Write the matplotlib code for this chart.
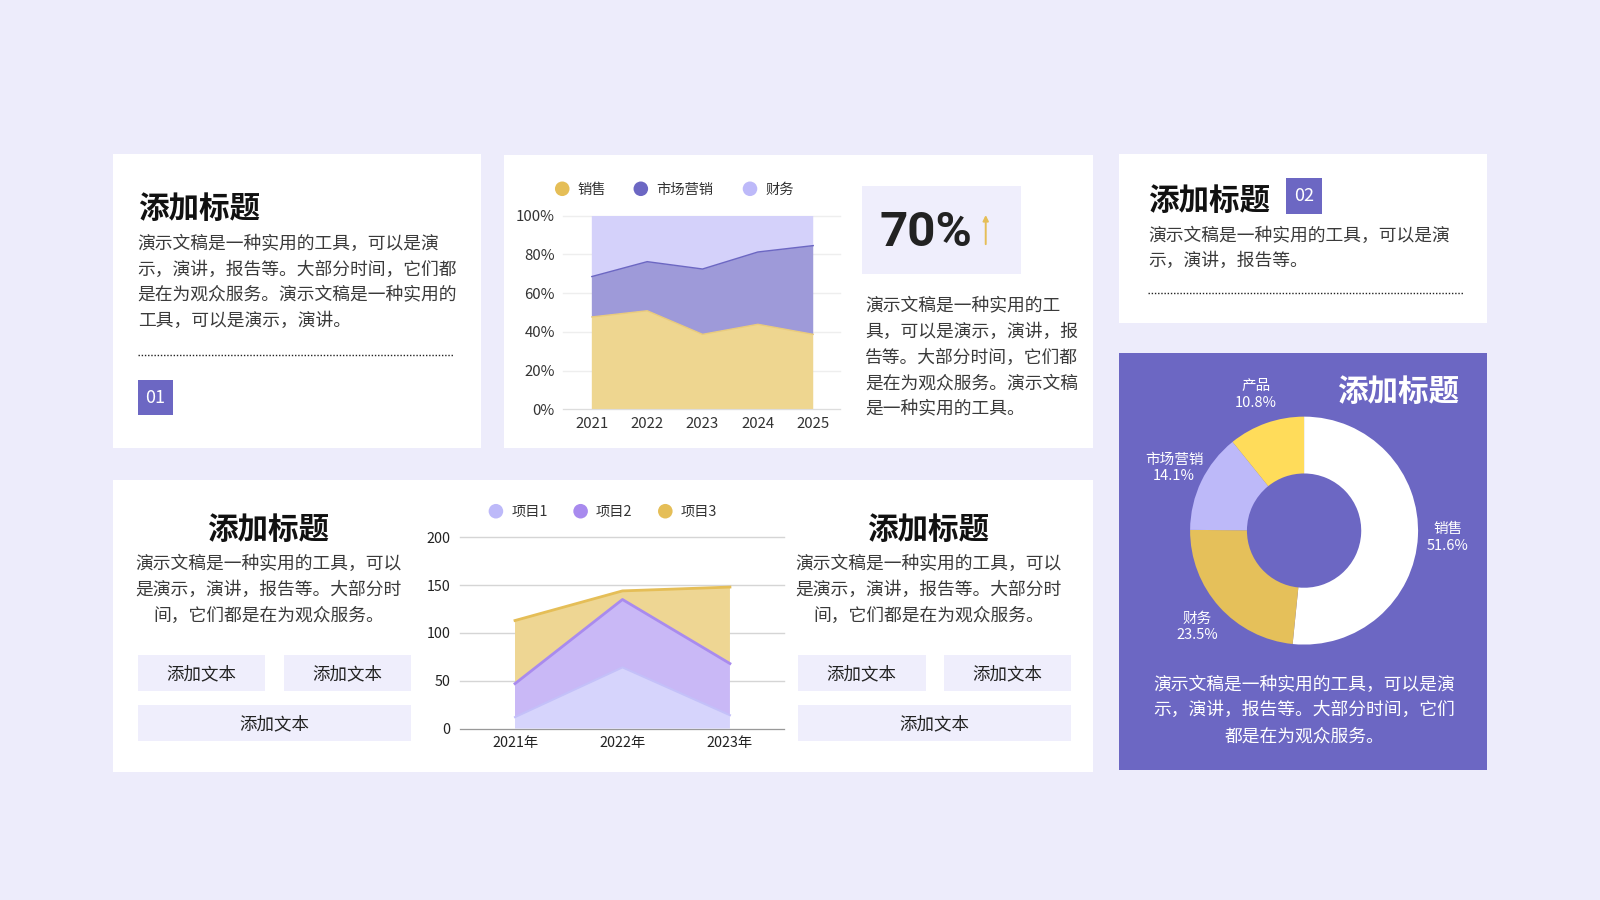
import matplotlib
matplotlib.use('Agg')
import matplotlib.pyplot as plt
import numpy as np
from matplotlib.patches import Rectangle

plt.rcParams['font.family'] = ['Noto Sans CJK SC', 'DejaVu Sans']

# ---- data ----
area_years = ['2021', '2022', '2023', '2024', '2025']
area_names = ['销售', '市场营销', '财务']
sales_share = [47.7, 50.9, 38.7, 43.9, 38.7]
marketing_share = [20.9, 25.4, 33.8, 37.4, 45.9]
finance_share = [31.4, 23.7, 27.5, 18.7, 15.4]
y_pct_ticks = [0, 20, 40, 60, 80, 100]

proj_years = ['2021年', '2022年', '2023年']
proj_names = ['项目1', '项目2', '项目3']
proj1 = [12, 64, 14]
proj2 = [35, 71, 54]
proj3 = [66, 9, 80]
proj_ticks = [0, 50, 100, 150, 200]

donut_names = ['销售', '财务', '市场营销', '产品']
donut_values = [51.6, 23.5, 14.1, 10.8]

growth_text = '70%'
title = '添加标题'
btn = '添加文本'

txt_a = ['演示文稿是一种实用的工具，可以是演', '示，演讲，报告等。大部分时间，它们都',
         '是在为观众服务。演示文稿是一种实用的', '工具，可以是演示，演讲。']
txt_b = ['演示文稿是一种实用的工', '具，可以是演示，演讲，报', '告等。大部分时间，它们都',
         '是在为观众服务。演示文稿', '是一种实用的工具。']
txt_c = ['演示文稿是一种实用的工具，可以是演', '示，演讲，报告等。']
txt_d = ['演示文稿是一种实用的工具，可以是演', '示，演讲，报告等。大部分时间，它们',
         '都是在为观众服务。']
txt_e = ['演示文稿是一种实用的工具，可以', '是演示，演讲，报告等。大部分时', '间，它们都是在为观众服务。']

# ---- colours ----
BG = '#EDECFB'
PURPLE = '#6C67C3'
LIGHT = '#EFEEFC'
TXT = '#3A3A3A'
YELLOW = '#E5BE57'

W, H = 1568, 882
fig = plt.figure(figsize=(16, 9), dpi=100, facecolor=BG)
bg = fig.add_axes([0, 0, 1, 1])
bg.set_xlim(0, W)
bg.set_ylim(H, 0)
bg.axis('off')


def place(x0, y0, x1, y1):
    a = fig.add_axes([x0 / W, 1 - y1 / H, (x1 - x0) / W, (y1 - y0) / H])
    a.set_facecolor('none')
    return a


def box(x0, y0, x1, y1, color):
    bg.add_patch(Rectangle((x0, y0), x1 - x0, y1 - y0, facecolor=color, edgecolor='none'))


def lines(x, y0, rows, ha='left', color=TXT, size=12.8, lh=25.3):
    # CJK glyphs sit a little high with va='center', so nudge down
    for i, r in enumerate(rows):
        bg.text(x, y0 + 1.8 + i * lh, r, ha=ha, va='center', color=color, fontsize=size)


def heading(x, y, ha='left', color='#111111'):
    bg.text(x, y + 2.5, title, ha=ha, va='center', color=color, fontsize=22, fontweight='bold')


def dotted(x0, x1, y):
    bg.plot([x0, x1], [y, y], color='#222222', lw=1, linestyle=(0, (1, 1.3)))


def legend_row(items, y):
    for x, label, c in items:
        bg.scatter([x], [y], s=110, color=c, edgecolor='none', zorder=5)
        bg.text(x + 15, y + 1, label, ha='left', va='center', fontsize=10.3, color='#333333')


# panels
box(111, 151, 471, 439, 'white')
box(494, 152, 1071, 439, 'white')
box(1097, 151, 1457, 317, 'white')
box(1097, 346, 1457, 755, PURPLE)
box(111, 470, 1071, 757, 'white')

# panel 1
heading(135, 202)
lines(135, 237, txt_a)
dotted(135, 444, 348)
box(135, 372, 170, 407, PURPLE)
bg.text(152.5, 390, '01', ha='center', va='center', color='white', fontsize=13)

# panel 2: 70% box
box(845, 182, 1001, 269, LIGHT)
bg.text(862, 228, growth_text, ha='left', va='center', fontsize=35.5, fontweight='bold',
        color='#222222', family='Roboto')
bg.annotate('', xy=(966, 208), xytext=(966, 242),
            arrowprops=dict(arrowstyle='-|>', color=YELLOW, lw=1.4, mutation_scale=8))
lines(848, 298, txt_b)

# stacked percent area chart
legend_row([(551, '销售', YELLOW), (628, '市场营销', PURPLE), (735, '财务', '#BDB9F9')], 185)
ax1 = place(552, 211.5, 823, 401)
xs = np.arange(len(area_years))
ax1.stackplot(xs, sales_share, marketing_share, finance_share,
              colors=['#EED690', '#9E9AD9', '#D4D1FA'], linewidth=0)
cum1 = np.array(sales_share)
cum2 = cum1 + np.array(marketing_share)
ax1.plot(xs, cum1, color='#E9CB7C', lw=1)
ax1.plot(xs, cum2, color=PURPLE, lw=1)
ax1.set_xlim(-0.516, 4.48)
ax1.set_ylim(0, 100)
ax1.set_yticks(y_pct_ticks)
ax1.set_yticklabels([f'{v}%' for v in y_pct_ticks])
ax1.set_xticks(xs)
ax1.set_xticklabels(area_years)
ax1.grid(axis='y', color='#EEEEEE', lw=1)
ax1.set_axisbelow(True)
for s in ['top', 'right', 'left']:
    ax1.spines[s].set_visible(False)
ax1.spines['bottom'].set_color('#DDDDDD')
ax1.tick_params(length=0, labelsize=10.8, labelcolor='#333333')
ax1.tick_params(axis='y', pad=6)
ax1.tick_params(axis='x', pad=5.5)
for gl in ax1.get_ygridlines():
    gl.set_clip_on(False)

# panel 3
heading(1125, 194)
box(1260, 174, 1296, 210, PURPLE)
bg.text(1278, 192.5, '02', ha='center', va='center', color='white', fontsize=13)
lines(1125, 229, txt_c)
dotted(1125, 1435, 287)

# panel 4: donut
heading(1430, 382, ha='right', color='white')
ax3 = place(1278 - 150, 520 - 150, 1278 + 150, 520 + 150)
wedges, labels = ax3.pie(donut_values, colors=['white', '#E5C05A', '#BDB9F9', '#FFDC5A'],
                         startangle=90, counterclock=False, radius=111.7,
                         wedgeprops=dict(width=55.7, edgecolor='none'),
                         labels=[f'{n}\n{v}%' for n, v in zip(donut_names, donut_values)],
                         labeldistance=1.265,
                         textprops=dict(color='white', fontsize=10.5))
for t in labels:
    t.set_ha('center')
    t.set_multialignment('center')
    t.set_linespacing(1.25)
ax3.set_xlim(-150, 150)
ax3.set_ylim(-150, 150)
ax3.set_aspect('equal')
ax3.axis('off')
lines(1278, 669, txt_d, ha='center', color='white')

# panel 5
for cx, bx in [(263, 135), (910, 782)]:
    heading(cx, 517, ha='center')
    lines(cx, 551, txt_e, ha='center')
    box(bx, 642, bx + 125, 677, LIGHT)
    box(bx + 143, 642, bx + 268, 677, LIGHT)
    box(bx, 691, bx + 268, 726, LIGHT)
    for tx, ty in [(bx + 62.5, 661), (bx + 205.5, 661), (bx + 134, 710)]:
        bg.text(tx, ty, btn, ha='center', va='center', fontsize=12.6, color='#222222')

legend_row([(486, '项目1', '#BDB9F9'), (569, '项目2', '#A88AEE'), (652, '项目3', YELLOW)], 501)
ax2 = place(451, 526.6, 768, 714)
px = np.arange(len(proj_years))
ax2.stackplot(px, proj1, proj2, proj3, colors=['#D6D4FC', '#C9B8F6', '#EED693'], linewidth=0)
c1 = np.array(proj1)
c2 = c1 + np.array(proj2)
c3 = c2 + np.array(proj3)
ax2.plot(px, c1, color='#C4C0F9', lw=1.5)
ax2.plot(px, c2, color='#A98BEE', lw=2)
ax2.plot(px, c3, color=YELLOW, lw=2)
ax2.set_xlim(-0.51, 2.5)
ax2.set_ylim(0, 200)
ax2.set_yticks(proj_ticks)
ax2.set_xticks(px)
ax2.set_xticklabels(proj_years)
ax2.grid(axis='y', color='#D5D5D5', lw=1)
ax2.set_axisbelow(True)
for s in ['top', 'right', 'left']:
    ax2.spines[s].set_visible(False)
ax2.spines['bottom'].set_color('#999999')
ax2.tick_params(length=0, labelsize=10.3, labelcolor='#222222')
ax2.tick_params(axis='y', pad=7)
ax2.tick_params(axis='x', pad=5.5)
for gl in ax2.get_ygridlines():
    gl.set_clip_on(False)

fig.savefig('out.png', dpi=100, facecolor=BG)
